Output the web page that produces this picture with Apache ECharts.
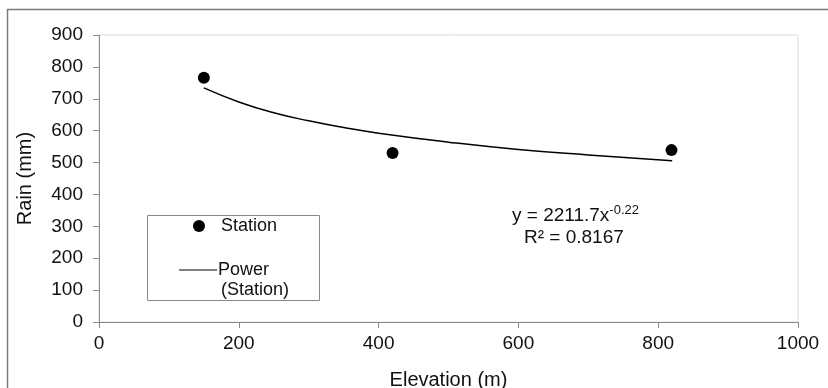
<!DOCTYPE html>
<html>
<head>
<meta charset="utf-8">
<script src="https://cdn.jsdelivr.net/npm/echarts@6/dist/echarts.min.js"></script>
<style>
  html, body { margin: 0; padding: 0; background: #fff; }
  #main { width: 828px; height: 388px; }
</style>
</head>
<body>
<div id="main"></div>
<script>
// station observations: elevation (m) and rain (mm)
var elevation = [150, 420, 819];
var rain = [766, 530, 539];

// power trend line as drawn
var trendX = [150, 200, 250, 300, 350, 400, 500, 600, 700, 820];
var trendY = [734, 690, 656, 631, 610, 592, 564, 541, 524, 506];

var xTicks = [0, 200, 400, 600, 800, 1000];
var yTicks = [0, 100, 200, 300, 400, 500, 600, 700, 800, 900];

var font = '"Liberation Sans", Arial, sans-serif';

var myChart = echarts.init(document.getElementById('main'));

var option = {
  animation: false,
  backgroundColor: '#fff',
  textStyle: {fontFamily: font},
  grid: {
    left: 99,
    right: 30,
    top: 35,
    bottom: 66,
    outerBoundsMode: 'none',
    containLabel: false,
    show: true,
    borderColor: '#dcdcdc',
    borderWidth: 1,
    backgroundColor: 'transparent'
  },
  xAxis: {
    type: 'value',
    min: xTicks[0],
    max: xTicks[xTicks.length - 1],
    interval: 200,
    name: 'Elevation (m)',
    nameLocation: 'middle',
    nameGap: 48,
    nameTextStyle: {color: '#111', fontSize: 20, fontFamily: font},
    axisLine: {show: true, onZero: false, lineStyle: {color: '#8a8a8a', width: 1}},
    axisTick: {show: true, length: 6, lineStyle: {color: '#8a8a8a'}},
    axisLabel: {
      color: '#111', fontSize: 19, margin: 12, fontFamily: font,
      formatter: function (v) { return String(v); }
    },
    splitLine: {show: false}
  },
  yAxis: {
    type: 'value',
    min: yTicks[0],
    max: yTicks[yTicks.length - 1],
    interval: 100,
    name: 'Rain (mm)',
    nameLocation: 'middle',
    nameGap: 64,
    nameTextStyle: {color: '#111', fontSize: 20, fontFamily: font},
    axisLine: {show: true, onZero: false, lineStyle: {color: '#8a8a8a', width: 1}},
    axisTick: {show: true, length: 6, lineStyle: {color: '#8a8a8a'}},
    axisLabel: {color: '#111', fontSize: 19, margin: 16, fontFamily: font},
    splitLine: {show: false}
  },
  series: [
    {
      name: 'Power (Station)',
      type: 'line',
      data: trendX.map(function (x, i) { return [x, trendY[i]]; }),
      smooth: true,
      showSymbol: false,
      lineStyle: {color: '#000', width: 1.5},
      z: 2
    },
    {
      name: 'Station',
      type: 'scatter',
      data: elevation.map(function (x, i) { return [x, rain[i]]; }),
      symbolSize: 12,
      itemStyle: {color: '#000', opacity: 1},
      z: 3
    }
  ],
  graphic: [
    // outer chart frame
    {
      type: 'polyline',
      shape: {points: [[7.5, 400], [7.5, 9.5], [828, 9.5]]},
      style: {stroke: '#7a7a7a', lineWidth: 1.5, fill: null},
      silent: true
    },
    // legend box
    {
      type: 'rect',
      shape: {x: 147.5, y: 215.5, width: 172, height: 85},
      style: {stroke: '#888', lineWidth: 1, fill: '#fff'},
      z: 10
    },
    {
      type: 'circle',
      shape: {cx: 199, cy: 226, r: 6},
      style: {fill: '#000'},
      z: 11
    },
    {
      type: 'text',
      x: 221, y: 226,
      style: {text: 'Station', font: '18px ' + font, fill: '#111', verticalAlign: 'middle'},
      z: 11
    },
    {
      type: 'line',
      shape: {x1: 179, y1: 270, x2: 217, y2: 270},
      style: {stroke: '#000', lineWidth: 1.2},
      z: 11
    },
    {
      type: 'text',
      x: 218, y: 270,
      style: {text: 'Power', font: '18px ' + font, fill: '#111', verticalAlign: 'middle'},
      z: 11
    },
    {
      type: 'text',
      x: 221, y: 290,
      style: {text: '(Station)', font: '18px ' + font, fill: '#111', verticalAlign: 'middle'},
      z: 11
    },
    // trend equation
    {
      type: 'text',
      x: 512, y: 216,
      style: {
        text: '{n|y = 2211.7x}{s|-0.22}',
        font: '19px ' + font,
        fill: '#111',
        verticalAlign: 'middle',
        rich: {
          n: {fontSize: 19, fontFamily: font, color: '#111'},
          s: {fontSize: 13, fontFamily: font, color: '#111', verticalAlign: 'top', padding: [0, 0, 12, 0]}
        }
      },
      z: 11
    },
    {
      type: 'text',
      x: 524, y: 238,
      style: {text: 'R² = 0.8167', font: '19px ' + font, fill: '#111', verticalAlign: 'middle'},
      z: 11
    }
  ]
};

myChart.setOption(option);
</script>
</body>
</html>
